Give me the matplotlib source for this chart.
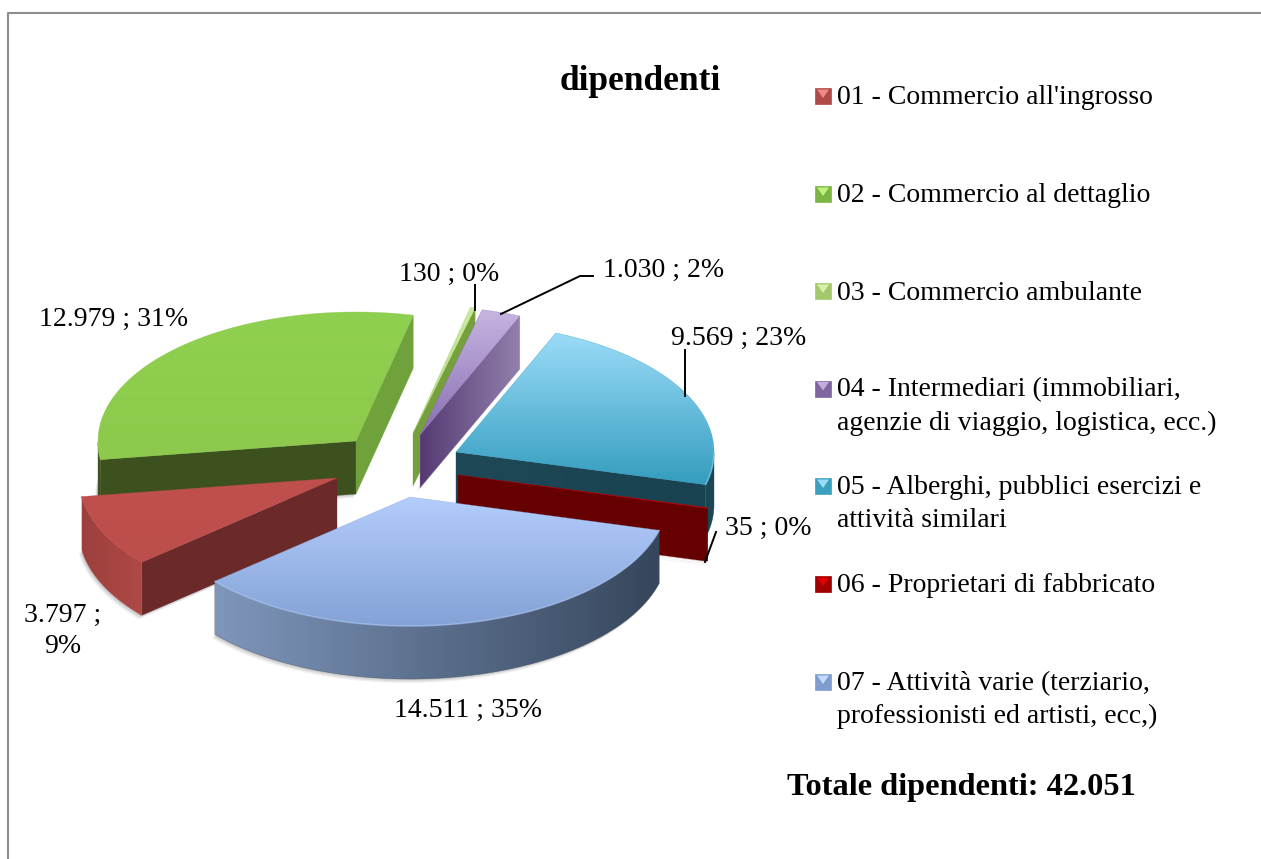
import numpy as np
import matplotlib
matplotlib.use("Agg")
import matplotlib.pyplot as plt
from matplotlib.colors import to_rgb, LinearSegmentedColormap
from matplotlib.patches import Polygon

names = [
    "01 - Commercio all'ingrosso",
    "02 - Commercio al dettaglio",
    "03 - Commercio ambulante",
    "04 - Intermediari (immobiliari,\nagenzie di viaggio, logistica, ecc.)",
    "05 - Alberghi, pubblici esercizi e\nattività similari",
    "06 - Proprietari di fabbricato",
    "07 - Attività varie (terziario,\nprofessionisti ed artisti, ecc,)",
]
values = [3797, 12979, 130, 1030, 9569, 35, 14511]
title = "dipendenti"
total_text = "Totale dipendenti: 42.051"

# styles, one per slice: top from/to, rim from/to, cut faces from/to
top_cols = [("#c0504d", "#bc4e4b"), ("#90d050", "#8cc94c"), ("#cbe9a2", "#b5d886"),
            ("#c6b5e2", "#8a6fb2"), ("#9adcf8", "#359dbf"), ("#e00000", "#c00000"),
            ("#b3cdfc", "#84a2d6")]
rim_cols = [("#9d403d", "#ae4946"), ("#3d511f", "#3d511f"), ("#7ba33f", "#7ba33f"),
            ("#8f7ca8", "#8f7ca8"), ("#1b4654", "#1b4654"), ("#660000", "#660000"),
            ("#7f96bb", "#36465c")]
cut_hi_cols = [("#6b2a29", "#6b2a29"), ("#3d511f", "#3d511f"), ("#76a03c", "#76a03c"),
               ("#553a72", "#9280ac"), ("#1f4957", "#184250"), ("#660000", "#660000"),
               ("#414f66", "#414f66")]
cut_lo_cols = [("#6b2a29", "#6b2a29"), ("#70a23c", "#70a23c"), ("#76a03c", "#76a03c"),
               ("#553a72", "#9280ac"), ("#1f4957", "#184250"), ("#660000", "#660000"),
               ("#414f66", "#414f66")]
swatch_base = ["#b04a48", "#7db544", "#a4c86c", "#7f66a0", "#3aa0bd", "#a00000", "#7f9ccf"]
swatch_lite = ["#f08a88", "#bff07a", "#d8f0a8", "#c4aee0", "#9adcf8", "#e00000", "#c4d8fa"]
offsets = [(-58, 13), (-39, -24), (18, -32), (25, -30), (61, -13), (63, 10), (15, 32)]
draw_order = [1, 2, 3, 4, 5, 0, 6]
cx, cy = 395, 465
radius, squash, depth = 258, 0.5, 53
start_angle = 220.8

plt.rcParams["font.family"] = ["Liberation Serif", "DejaVu Serif"]

fig = plt.figure(figsize=(12.61, 8.59), dpi=100)
ax = fig.add_axes([0, 0, 1, 1])
ax.set_xlim(0, 1261)
ax.set_ylim(859, 0)
ax.set_autoscale_on(False)
ax.axis("off")

z = [10]


def next_z():
    z[0] += 1
    return z[0]


def grad_poly(pts, c0, c1, vertical=True):
    # gradient fill clipped to a polygon
    pts = np.array(pts)
    order = next_z()
    cmap = LinearSegmentedColormap.from_list("g", [to_rgb(c0), to_rgb(c1)])
    ramp = np.linspace(0, 1, 128)
    ramp = ramp[:, None] if vertical else ramp[None, :]
    poly = Polygon(pts, closed=True, fc="none", ec="none", transform=ax.transData)
    ax.add_patch(poly)
    x0, y0, x1, y1 = pts[:, 0].min(), pts[:, 1].min(), pts[:, 0].max(), pts[:, 1].max()
    im = ax.imshow(ramp, cmap=cmap, vmin=0, vmax=1, extent=(x0, x1, y1, y0),
                   aspect="auto", zorder=order, interpolation="bilinear")
    im.set_clip_path(poly)
    # thin edge so the anti-aliased clip leaves no gaps
    ax.add_patch(Polygon(pts, closed=True, fc="none", ec=c1, lw=0.4, alpha=0.6, zorder=order))


def arc(ox, oy, a_hi, a_lo, n=160):
    t = np.radians(np.linspace(a_hi, a_lo, n))
    return np.column_stack([ox + radius * np.cos(t), oy - radius * squash * np.sin(t)])


angles = [start_angle]
for v in values:
    angles.append(angles[-1] - v / sum(values) * 360)

for i in draw_order:
    a_hi, a_lo = angles[i], angles[i + 1]
    ox, oy = cx + offsets[i][0], cy + offsets[i][1]
    rim = arc(ox, oy, a_hi, a_lo)
    down = np.array([0, depth])
    apex = np.array([ox, oy])
    top = np.vstack([apex, rim])

    # soft shadow under the slice
    for dx, dy, al in [(-3, 4, 0.12), (-2, 2.5, 0.18), (-1, 1, 0.25)]:
        ax.add_patch(Polygon(top + down + [dx, dy], closed=True, fc="#808080", ec="none",
                             alpha=al, zorder=next_z()))

    # cut faces that look toward the viewer
    faces = [(a_hi, np.cos(np.radians(a_hi)) < 0, cut_hi_cols[i]),
             (a_lo, np.cos(np.radians(a_lo)) > 0, cut_lo_cols[i])]
    for a, show, cols in faces:
        if show:
            p = arc(ox, oy, a, a, 1)[0]
            c0, c1 = cols
            if p[0] < ox:
                c0, c1 = c1, c0
            grad_poly([apex, p, p + down, apex + down], c0, c1, vertical=False)

    # outer wall, only the part below the horizontal axis is visible
    low = np.sin(np.radians(np.linspace(a_hi, a_lo, 160))) <= 0
    if low.any():
        front = rim[low]
        grad_poly(np.vstack([front, (front + down)[::-1]]), rim_cols[i][0], rim_cols[i][1],
                  vertical=False)

    grad_poly(top, top_cols[i][0], top_cols[i][1], vertical=True)

    # bright edge of the bevel
    if low.any():
        ax.plot(rim[low][:, 0], rim[low][:, 1], color=top_cols[i][0], lw=1.2, alpha=0.5,
                zorder=next_z(), solid_capstyle="round")

# leader lines
leaders = [
    ([475, 475], [285, 310]),
    ([593, 580, 501], [276, 276, 314]),
    ([685, 685], [350, 396]),
    ([716, 705], [532, 562]),
]
for lx, ly in leaders:
    ax.plot(lx, ly, color="black", lw=1.4, zorder=200)


def num_label(i):
    n = f"{values[i]:,}".replace(",", ".")
    return f"{n} ; {values[i] / sum(values) * 100:.0f}%"


fs = 20
label_pos = [(63, 631), (114, 319), (449, 274), (664, 270), (739, 338), (768, 528), (468, 710)]
for i, (lx, ly) in enumerate(label_pos):
    s = num_label(i)
    if i == 0:
        s = s.replace("; ", ";\n")
    ax.text(lx, ly, s, ha="center", va="center", fontsize=fs, color="black", zorder=210,
            linespacing=1.3)

ax.text(640, 81, title, ha="center", va="center", fontsize=25.5, fontweight="bold", zorder=210)

# legend
legend_y = [96, 194, 291, 404.5, 502, 584, 698]
for i, (name, ly) in enumerate(zip(names, legend_y)):
    n_lines = name.count("\n") + 1
    my = ly if n_lines == 1 else ly - 16
    sq = [(815, my - 8), (831, my - 8), (831, my + 8), (815, my + 8)]
    ax.add_patch(Polygon(sq, closed=True, fc=swatch_base[i], ec=swatch_base[i], lw=0.5,
                         zorder=next_z()))
    ax.add_patch(Polygon([(817, my - 6.5), (829, my - 6.5), (823, my + 2)], closed=True,
                         fc=swatch_lite[i], ec="none", zorder=next_z()))
    ax.text(837, ly + 2, name, ha="left", va="center", fontsize=fs, color="black", zorder=210,
            linespacing=1.42)

ax.text(787, 788, total_text, ha="left", va="center", fontsize=23.3, fontweight="bold", zorder=210)

# chart border, cut by the page on the right and bottom
ax.plot([8, 8, 1261], [859, 12.5, 12.5], color="#8c8c8c", lw=1.5, zorder=300)

fig.savefig("out.png", dpi=100)
